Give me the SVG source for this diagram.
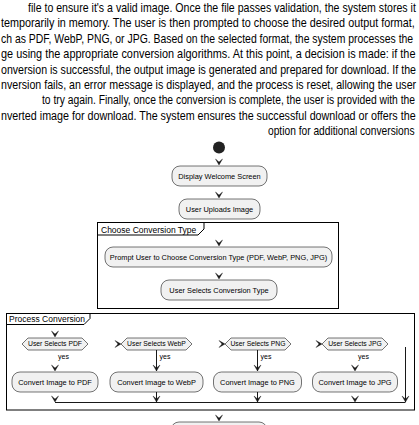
<svg xmlns="http://www.w3.org/2000/svg" width="419" height="425" viewBox="0 0 419 425">
<style>
.hdr{font-family:"Liberation Sans",Arial,sans-serif;font-size:12.5px;fill:#000}
.lbl{font-family:"Liberation Sans",Arial,sans-serif;font-size:7.4px;fill:#000;text-anchor:middle}
.hx{font-family:"Liberation Sans",Arial,sans-serif;font-size:6.8px;fill:#000;text-anchor:middle}
.ptl{font-family:"Liberation Sans",Arial,sans-serif;font-size:8.5px;fill:#000}
.yes{font-family:"Liberation Sans",Arial,sans-serif;font-size:7px;fill:#000}
.act{fill:#F1F1F1;stroke:#181818;stroke-width:0.6}
.part{fill:none;stroke:#000;stroke-width:1}
.ln{fill:none;stroke:#181818;stroke-width:1}
.ah{fill:#181818;stroke:#181818;stroke-width:0.4}
</style>
<defs>
<path id="ad" d="M-3.5,-6 L0,0 L3.5,-6 L0,-3 Z"/>
<path id="ar" d="M-6,-3.5 L0,0 L-6,3.5 L-3,0 Z"/>
</defs>
<g id="header">
<text class="hdr" transform="translate(28 12) scale(0.847 1)">file to ensure it's a valid image. Once the file passes validation, the system stores it</text>
<text class="hdr" transform="translate(1 27.4) scale(0.865 1)">temporarily in memory. The user is then prompted to choose the desired output format,</text>
<text class="hdr" transform="translate(1 42.8) scale(0.835 1)">ch as PDF, WebP, PNG, or JPG. Based on the selected format, the system processes the</text>
<text class="hdr" transform="translate(1 58.1) scale(0.871 1)">ge using the appropriate conversion algorithms. At this point, a decision is made: if the</text>
<text class="hdr" transform="translate(1 73.5) scale(0.850 1)">onversion is successful, the output image is generated and prepared for download. If the</text>
<text class="hdr" transform="translate(1 88.9) scale(0.853 1)">nversion fails, an error message is displayed, and the process is reset, allowing the user</text>
<text class="hdr" transform="translate(42 104.3) scale(0.826 1)">to try again. Finally, once the conversion is complete, the user is provided with the</text>
<text class="hdr" transform="translate(1 119.6) scale(0.859 1)">nverted image for download. The system ensures the successful download or offers the</text>
<text class="hdr" transform="translate(268 135) scale(0.818 1)">option for additional conversions</text>
</g>
<g id="connectors">
<use href="#ad" class="ah" x="219" y="165"/>
<use href="#ad" class="ah" x="219" y="198"/>
<use href="#ad" class="ah" x="219" y="246"/>
<use href="#ad" class="ah" x="219" y="279"/>
<use href="#ad" class="ah" x="55" y="337"/>
<use href="#ar" class="ah" x="121" y="344"/>
<use href="#ar" class="ah" x="225" y="344"/>
<use href="#ar" class="ah" x="322" y="344"/>
<use href="#ad" class="ah" x="55" y="371"/>
<path class="ln" d="M156.5,350 V371 M156.5,392 V402 M257.5,350 V371 M257.5,392 V402 M405.5,347 V402 M55,402.5 H405.5"/>
<use href="#ad" class="ah" x="156.5" y="371"/>
<use href="#ad" class="ah" x="257.5" y="371"/>
<use href="#ad" class="ah" x="355" y="371"/>
<use href="#ad" class="ah" x="55" y="402"/>
<use href="#ad" class="ah" x="156.5" y="402"/>
<use href="#ad" class="ah" x="257.5" y="402"/>
<use href="#ad" class="ah" x="355" y="402"/>
<use href="#ad" class="ah" x="405.5" y="402"/>
<use href="#ad" class="ah" x="219" y="421"/>
<text class="yes" x="58" y="359">yes</text>
<text class="yes" x="159.5" y="359">yes</text>
<text class="yes" x="260.5" y="359">yes</text>
<text class="yes" x="358" y="359">yes</text>
</g>
<g id="start"><circle cx="219" cy="147.5" r="6" fill="#222"/></g>
<g id="welcome"><rect class="act" x="172" y="166" width="95" height="20" rx="8"/><text class="lbl" x="219.5" y="178.7">Display Welcome Screen</text></g>
<g id="upload"><rect class="act" x="179" y="199" width="81" height="20" rx="8"/><text class="lbl" x="219.5" y="211.7">User Uploads Image</text></g>
<g id="p-choose">
<rect class="part" x="97.5" y="222.5" width="241" height="86"/>
<path class="part" d="M97.5,235 H198 L204,229 V222.5"/>
<text class="ptl" x="101" y="232.5">Choose Conversion Type</text>
</g>
<g id="prompt"><rect class="act" x="105" y="247" width="227" height="20" rx="8"/><text class="lbl" x="218.5" y="259.7">Prompt User to Choose Conversion Type (PDF, WebP, PNG, JPG)</text></g>
<g id="selects"><rect class="act" x="161" y="280" width="116" height="20" rx="8"/><text class="lbl" x="219" y="292.7">User Selects Conversion Type</text></g>
<g id="p-process">
<rect class="part" x="6.5" y="313.5" width="408" height="96.5"/>
<path class="part" d="M6.5,324.5 H84 L90,318.5 V313.5"/>
<text class="ptl" x="9" y="322">Process Conversion</text>
</g>
<g id="if-pdf"><path class="act" d="M22,344 L28,338 H82 L88,344 L82,350 H28 Z"/><text class="hx" x="55" y="346.4">User Selects PDF</text></g>
<g id="if-webp"><path class="act" d="M121,344 L127,338 H186 L192,344 L186,350 H127 Z"/><text class="hx" x="156.5" y="346.4">User Selects WebP</text></g>
<g id="if-png"><path class="act" d="M225,344 L231,338 H285 L291,344 L285,350 H231 Z"/><text class="hx" x="258" y="346.4">User Selects PNG</text></g>
<g id="if-jpg"><path class="act" d="M322,344 L328,338 H382 L388,344 L382,350 H328 Z"/><text class="hx" x="355" y="346.4">User Selects JPG</text></g>
<g id="conv-pdf"><rect class="act" x="12" y="372" width="86" height="20" rx="8"/><text class="lbl" x="55" y="384.7">Convert Image to PDF</text></g>
<g id="conv-webp"><rect class="act" x="110" y="372" width="93" height="20" rx="8"/><text class="lbl" x="156.5" y="384.7">Convert Image to WebP</text></g>
<g id="conv-png"><rect class="act" x="213.5" y="372" width="88" height="20" rx="8"/><text class="lbl" x="257.5" y="384.7">Convert Image to PNG</text></g>
<g id="conv-jpg"><rect class="act" x="312.5" y="372" width="85" height="20" rx="8"/><text class="lbl" x="355" y="384.7">Convert Image to JPG</text></g>
<g id="next"><rect class="act" x="171" y="422" width="96" height="20" rx="8"/></g>
</svg>
